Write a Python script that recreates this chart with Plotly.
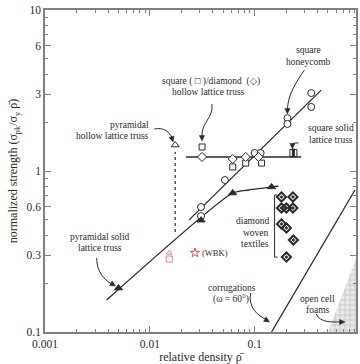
import numpy as np
import plotly.graph_objects as go

# ---------------- data (relative density, normalized strength) ----------------
honeycomb_line_x = [0.0237, 0.431]
honeycomb_line_y = [0.497, 3.18]
honeycomb_x = [0.0308, 0.0308, 0.052, 0.100, 0.114, 0.2056, 0.2056, 0.3467, 0.3467]
honeycomb_y = [0.597, 0.525, 0.879, 1.294, 1.294, 2.13, 1.96, 3.05, 2.50]

pyr_solid_line_x = [0.00387, 0.0618, 0.0877, 0.1216, 0.1686]
pyr_solid_line_y = [0.158, 0.730, 0.762, 0.783, 0.807]
pyr_solid_x = [0.00502, 0.0308, 0.0618, 0.145]
pyr_solid_y = [0.1875, 0.495, 0.730, 0.796]

hollow_line_x = [0.0222, 0.2786]
hollow_line_y = [1.222, 1.222]
hollow_sq_x = [0.0315, 0.0618, 0.0822, 0.1164]
hollow_sq_y = [1.41, 1.06, 1.12, 1.12]
hollow_dia_x = [0.0315, 0.0618, 0.0822, 0.109]
hollow_dia_y = [1.222, 1.187, 1.222, 1.222]

pyr_hollow_x = [0.01746]
pyr_hollow_y = [1.45]
pyr_hollow_dash_x = [0.01746, 0.01746]
pyr_hollow_dash_y = [0.418, 1.31]

sq_solid_x = [0.2344]
sq_solid_y = [1.294]

textiles_x = [0.1803, 0.232, 0.1803, 0.2009, 0.232, 0.1803, 0.2009, 0.2344, 0.2009]
textiles_y = [0.690, 0.690, 0.589, 0.589, 0.589, 0.469, 0.443, 0.3727, 0.292]
bracket_x = [0.165, 0.1549, 0.1549, 0.165]
bracket_y = [0.71, 0.71, 0.292, 0.292]

wbk_x = [0.02698]
wbk_y = [0.31]
red_tower_x = [0.01531, 0.01531]
red_tower_y = [0.31, 0.284]

corrugation_x = [0.145, 0.906]
corrugation_y = [0.1, 0.762]

foam_x = [0.502, 0.93, 0.93, 0.502]
foam_y = [0.1, 0.288, 0.1, 0.1]

x_tick_vals = [0.001, 0.01, 0.1]
x_tick_text = ["0.001", "0.01", "0.1"]
y_tick_vals = [0.1, 0.3, 0.6, 1, 3, 6, 10]
y_tick_text = ["0.1", "0.3", "0.6", "1", "3", "6", "10"]

# ---------------- figure ----------------
FONT = "Liberation Serif, Times New Roman, DejaVu Serif, serif"
INK = "#2a2a2a"
AX = "#808080"

# plot area in pixels (for placing annotations)
L, R, T, B = 45, 358, 10, 332


def px(x, y):
    return (x - L) / (R - L), (B - y) / (B - T)


fig = go.Figure()

# open cell foams region
fig.add_trace(go.Scatter(
    x=foam_x, y=foam_y, mode="lines", fill="toself",
    fillcolor="#dcdcdc", line=dict(width=0),
    fillpattern=dict(shape=".", fgcolor="#ffffff", bgcolor="#d4d4d4", size=5, solidity=0.45),
    hoverinfo="skip", showlegend=False))

line_style = dict(color=INK, width=1.3)
fig.add_trace(go.Scatter(x=corrugation_x, y=corrugation_y, mode="lines", line=line_style, showlegend=False))
fig.add_trace(go.Scatter(x=honeycomb_line_x, y=honeycomb_line_y, mode="lines", line=line_style, showlegend=False))
fig.add_trace(go.Scatter(x=pyr_solid_line_x, y=pyr_solid_line_y, mode="lines",
                         line=dict(color=INK, width=1.3, shape="spline", smoothing=0.6), showlegend=False))
fig.add_trace(go.Scatter(x=hollow_line_x, y=hollow_line_y, mode="lines", line=line_style, showlegend=False))
fig.add_trace(go.Scatter(x=pyr_hollow_dash_x, y=pyr_hollow_dash_y, mode="lines",
                         line=dict(color=INK, width=1.2, dash="3px,3px"), showlegend=False))
fig.add_trace(go.Scatter(x=bracket_x, y=bracket_y, mode="lines", line=dict(color=INK, width=1), showlegend=False))

mk = lambda sym, size=7, fill="white", w=1.0: dict(symbol=sym, size=size, color=fill, line=dict(color=INK, width=w))
fig.add_trace(go.Scatter(x=honeycomb_x, y=honeycomb_y, mode="markers", marker=mk("circle", 7), showlegend=False))
fig.add_trace(go.Scatter(x=hollow_sq_x, y=hollow_sq_y, mode="markers", marker=mk("square", 6), showlegend=False))
fig.add_trace(go.Scatter(x=hollow_dia_x, y=hollow_dia_y, mode="markers", marker=mk("diamond", 7), showlegend=False))
fig.add_trace(go.Scatter(x=pyr_solid_x, y=pyr_solid_y, mode="markers", marker=mk("triangle-up", 7, INK), showlegend=False))
fig.add_trace(go.Scatter(x=pyr_hollow_x, y=pyr_hollow_y, mode="markers", marker=mk("triangle-up", 7), showlegend=False))
fig.add_trace(go.Scatter(x=sq_solid_x, y=sq_solid_y, mode="markers", marker=mk("square", 7), showlegend=False))
fig.add_trace(go.Scatter(x=sq_solid_x, y=sq_solid_y, mode="markers",
                         marker=dict(symbol="line-ns", size=6, line=dict(color=INK, width=3)), showlegend=False))
fig.add_trace(go.Scatter(x=textiles_x, y=textiles_y, mode="markers",
                         marker=dict(symbol="diamond-open-dot", size=7, color=INK, line=dict(color=INK, width=2)),
                         showlegend=False))
fig.add_trace(go.Scatter(x=wbk_x, y=wbk_y, mode="markers",
                         marker=dict(symbol="star-open", size=7, color="#d9534f", line=dict(width=1)), showlegend=False))
fig.add_trace(go.Scatter(x=red_tower_x, y=red_tower_y, mode="markers",
                         marker=dict(symbol=["triangle-up-open", "square-open"], size=[5, 6], color="#d9534f",
                                     line=dict(width=1)), showlegend=False))

# ---------------- annotations ----------------
ann = []
shapes = []


def text(x, y, s, anchor="center", size=9.5, color=INK):
    xp, yp = px(x, y)
    ann.append(dict(x=xp, y=yp, xref="paper", yref="paper", text=s, showarrow=False,
                    xanchor=anchor, yanchor="middle", align=anchor if anchor != "center" else "center",
                    font=dict(family=FONT, size=size, color=color)))


def head(x, y, dx, dy, length=5.5, half=2.6):
    """Filled arrowhead with tip at pixel (x, y), pointing away from direction (dx, dy)."""
    n = np.hypot(dx, dy)
    ux, uy = -dx / n, -dy / n  # direction of travel
    bx, by = x - ux * length, y - uy * length
    p1 = px(x, y)
    p2 = px(bx - uy * half, by + ux * half)
    p3 = px(bx + uy * half, by - ux * half)
    d = "M {:.4f},{:.4f} L {:.4f},{:.4f} L {:.4f},{:.4f} Z".format(*p1, *p2, *p3)
    shapes.append(dict(type="path", xref="paper", yref="paper", path=d,
                       fillcolor=INK, line=dict(color=INK, width=0.5)))


def curve(points):
    pts = [px(*p) for p in points]
    d = "M {:.4f},{:.4f} C ".format(*pts[0]) + " ".join("{:.4f},{:.4f}".format(*p) for p in pts[1:])
    shapes.append(dict(type="path", xref="paper", yref="paper", path=d, line=dict(color=INK, width=1)))


text(152, 125, "pyramidal", "right")
text(152, 136, "hollow lattice truss", "right")
curve([(155, 129), (165, 127), (170, 132), (173, 138)])
head(174, 142, -2, -6)

text(212, 81, "square ( \u25a1 )/diamond  (\u25c7)")
text(210, 92, "hollow lattice truss")
curve([(213, 104), (215, 118), (202, 122), (203, 137)])
head(203, 141, 0, -6)

text(310, 50, "square")
text(310, 62, "honeycomb")
curve([(306, 70), (298, 82), (289, 95), (289, 110)])
head(289, 114, 0, -6)

text(333, 128, "square solid")
text(333, 140, "lattice truss")
curve([(300, 143), (296, 143), (294, 143), (294, 145)])
head(294, 149, 0, -6)

text(100, 237, "pyramidal solid")
text(100, 248, "lattice truss")
curve([(97, 258), (97, 272), (105, 280), (112, 284)])
head(116, 286, -5, -3)

text(233, 288, "corrugations")
text(232, 299, "(\u03c9 = 60\u00b0)")
curve([(252, 293), (249, 308), (260, 316), (267, 319)])
head(271, 322, -5, -3)

text(319, 299, "open cell")
text(320, 310, "foams")
curve([(318, 314), (322, 323), (334, 322), (343, 322)])
head(347, 322, -6, 0)

text(272, 221, "diamond", "right")
text(272, 233, "woven", "right")
text(272, 244, "textiles", "right")

text(201, 253, "(WBK)", "left", 8.5)

fig.update_layout(
    width=360, height=364,
    margin=dict(l=L, r=360 - R, t=T, b=364 - B),
    paper_bgcolor="white", plot_bgcolor="white",
    font=dict(family=FONT, size=11, color=INK),
    annotations=ann, shapes=shapes,
    showlegend=False,
)

minor_x = [m * 10.0 ** e for e in range(-3, 0) for m in range(2, 10)]
minor_y = [m * 10.0 ** e for e in range(-1, 1) for m in range(2, 10)]

fig.update_xaxes(
    type="log", range=[-3, np.log10(0.927)],
    tickvals=x_tick_vals, ticktext=x_tick_text,
    ticks="inside", ticklen=6, tickcolor=AX, tickwidth=1,
    minor=dict(tickvals=minor_x, ticks="inside", ticklen=3, tickcolor=AX),
    showline=True, linecolor=AX, linewidth=1.5, mirror="ticks",
    showgrid=False, zeroline=False,
    tickfont=dict(family=FONT, size=11.5, color=INK),
    title=dict(text="relative density \u03c1\u0304", font=dict(family=FONT, size=12, color=INK), standoff=4),
)
fig.update_yaxes(
    type="log", range=[-1, 1],
    tickvals=y_tick_vals, ticktext=y_tick_text,
    ticks="inside", ticklen=6, tickcolor=AX, tickwidth=1,
    minor=dict(tickvals=minor_y, ticks="inside", ticklen=3, tickcolor=AX),
    showline=True, linecolor=AX, linewidth=1.5, mirror="ticks",
    showgrid=False, zeroline=False,
    tickfont=dict(family=FONT, size=11.5, color=INK),
    title=dict(text="normalized strength (\u03c3<sub>pk</sub>/\u03c3<sub>y</sub> \u03c1\u0304)",
               font=dict(family=FONT, size=12, color=INK), standoff=6),
)

fig.write_html("out.html")
